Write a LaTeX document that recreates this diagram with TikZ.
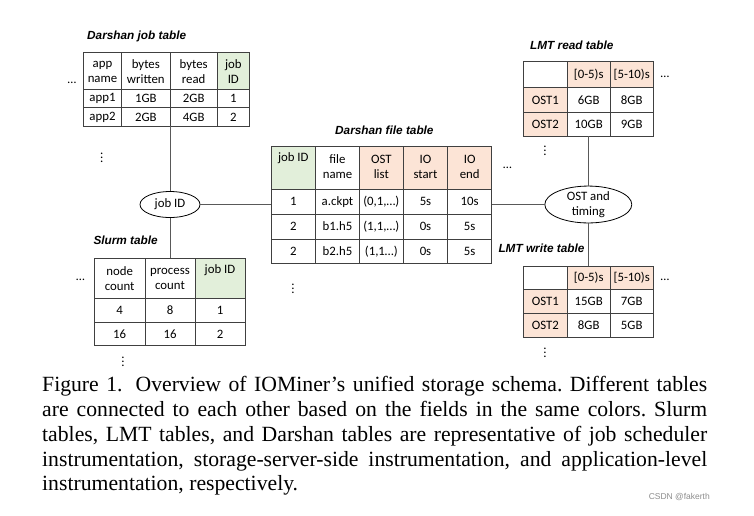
\documentclass[tikz,border=0pt]{standalone}
\usepackage{fontspec}
\setmainfont{Liberation Serif}
\setsansfont{Liberation Sans}
\newfontfamily\cellfont{Carlito}
\usetikzlibrary{shapes.geometric}
\definecolor{keygreen}{RGB}{226,239,218}
\definecolor{keypeach}{RGB}{252,228,214}
\frenchspacing

\begin{document}
\begin{tikzpicture}[x=1pt,y=-1pt,
  cell/.style={font=\cellfont\fontsize{12.8}{15}\selectfont, inner sep=0pt, align=center},
  tabtitle/.style={font=\sffamily\bfseries\itshape\fontsize{11.8}{14}\selectfont, anchor=west, inner sep=0pt},
  more/.style={font=\cellfont\fontsize{12.5}{15}\selectfont, inner sep=0pt, anchor=base},
  grid line/.style={draw=black!75, line width=0.8pt},
  link/.style={draw=black!65, line width=0.8pt},
  key/.style={cell, ellipse, draw=black, line width=0.8pt, fill=white}]
\useasboundingbox (0,0) rectangle (754,515);

% Darshan job table
\fill[keygreen] (217.3,52.3) rectangle (249.3,89);
\draw[grid line] (83.3,52.3) rectangle (249.3,126);
\foreach \y in {89,107.3} \draw[grid line] (83.3,\y) -- (249.3,\y);
\foreach \x in {121.7,170,217.3} \draw[grid line] (\x,52.3) -- (\x,126);
\node[tabtitle] (djt-title) at (87,36) {Darshan job table};
\node[cell] (djt-app) at (102.5,72) {app\\name};
\node[cell] (djt-wr) at (145.8,72) {bytes\\written};
\node[cell] (djt-rd) at (193.7,72) {bytes\\read};
\node[cell] (djt-job) at (233.3,72) {job\\ID};
\foreach \a/\w/\r/\j [count=\i, evaluate=\i as \y using 80+18.5*\i] in {app1/1GB/2GB/1, app2/2GB/4GB/2} {
  \node[cell] (djt-a\i) at (102.5,\y) {\a};
  \node[cell] (djt-w\i) at (145.8,\y) {\w};
  \node[cell] (djt-r\i) at (193.7,\y) {\r};
  \node[cell] (djt-j\i) at (233.3,\y) {\j};
}
\node[more] (djt-more) at (72,83) {…};
\node[cell] (djt-rows) at (101.7,155) {$\vdots$};
\coordinate (djt-bot) at (170,126);

% Slurm table
\fill[keygreen] (195,258.3) rectangle (245,298.3);
\draw[grid line] (94.3,258.3) rectangle (245,345.7);
\foreach \y in {298.3,322.7} \draw[grid line] (94.3,\y) -- (245,\y);
\foreach \x in {145,195} \draw[grid line] (\x,258.3) -- (\x,345.7);
\node[tabtitle] (slm-title) at (93.3,240) {Slurm table};
\node[cell] (slm-node) at (119.7,278.7) {node\\count};
\node[cell] (slm-proc) at (170,278.7) {process\\count};
\node[cell] (slm-job) at (220,270) {job ID};
\foreach \n/\p/\j [count=\i, evaluate=\i as \y using 286.8+23.7*\i] in {4/8/1, 16/16/2} {
  \node[cell] (slm-n\i) at (119.7,\y) {\n};
  \node[cell] (slm-p\i) at (170,\y) {\p};
  \node[cell] (slm-j\i) at (220,\y) {\j};
}
\node[more] (slm-more) at (80.5,280) {…};
\node[cell] (slm-rows) at (123,359) {$\vdots$};
\coordinate (slm-top) at (170,258.3);

% Darshan file table
\fill[keygreen] (271,146.7) rectangle (315.7,189);
\fill[keypeach] (359.3,146.7) rectangle (491.7,189);
\draw[grid line] (271,146.7) rectangle (491.7,263.3);
\foreach \y in {189,214,239} \draw[grid line] (271,\y) -- (491.7,\y);
\foreach \x in {315.7,359.3,403.3,447.7} \draw[grid line] (\x,146.7) -- (\x,263.3);
\node[tabtitle] (dft-title) at (335,130) {Darshan file table};
\node[cell] (dft-job) at (293.3,158.3) {job ID};
\node[cell] (dft-file) at (337.5,166.7) {file\\name};
\node[cell] (dft-ost) at (381.3,166.7) {OST\\list};
\node[cell] (dft-start) at (425.5,166.7) {IO\\start};
\node[cell] (dft-end) at (469.7,166.7) {IO\\end};
\foreach \j/\f/\o/\s/\e [count=\i, evaluate=\i as \y using 176.7+24.9*\i] in
    {1/a.ckpt/{(0,1,…)}/5s/10s, 2/b1.h5/{(1,1,…)}/0s/5s, 2/b2.h5/{(1,1…)}/0s/5s} {
  \node[cell] (dft-j\i) at (293.3,\y) {\j};
  \node[cell] (dft-f\i) at (337.5,\y) {\f};
  \node[cell] (dft-o\i) at (381.3,\y) {\o};
  \node[cell] (dft-s\i) at (425.5,\y) {\s};
  \node[cell] (dft-e\i) at (469.7,\y) {\e};
}
\node[more] (dft-more) at (507.5,168) {…};
\node[cell] (dft-rows) at (293,286) {$\vdots$};
\coordinate (dft-west) at (271,204.5);
\coordinate (dft-east) at (491.7,204.5);

% LMT read table
\fill[keypeach] (567.3,61.7) rectangle (653.3,87.3);
\fill[keypeach] (523.3,87.3) rectangle (567.3,136);
\draw[grid line] (523.3,61.7) rectangle (653.3,136);
\foreach \y in {87.3,112.7} \draw[grid line] (523.3,\y) -- (653.3,\y);
\foreach \x in {567.3,610} \draw[grid line] (\x,61.7) -- (\x,136);
\node[tabtitle] (lmr-title) at (530,45) {LMT read table};
\node[cell] (lmr-t1) at (588.7,74.5) {[0-5)s};
\node[cell] (lmr-t2) at (631.7,74.5) {[5-10)s};
\foreach \o/\a/\b [count=\i, evaluate=\i as \y using 75.7+24.3*\i] in {OST1/6GB/8GB, OST2/10GB/9GB} {
  \node[cell] (lmr-o\i) at (545.3,\y) {\o};
  \node[cell] (lmr-a\i) at (588.7,\y) {\a};
  \node[cell] (lmr-b\i) at (631.7,\y) {\b};
}
\node[more] (lmr-more) at (665,77) {…};
\node[cell] (lmr-rows) at (545,148) {$\vdots$};
\coordinate (lmr-bot) at (588.3,136);

% LMT write table
\fill[keypeach] (567.3,266) rectangle (653.3,289.3);
\fill[keypeach] (523.3,289.3) rectangle (567.3,337.3);
\draw[grid line] (523.3,266) rectangle (653.3,337.3);
\foreach \y in {289.3,313.3} \draw[grid line] (523.3,\y) -- (653.3,\y);
\foreach \x in {567.3,610} \draw[grid line] (\x,266) -- (\x,337.3);
\node[tabtitle] (lmw-title) at (498.3,248) {LMT write table};
\node[cell] (lmw-t1) at (588.7,277.7) {[0-5)s};
\node[cell] (lmw-t2) at (631.7,277.7) {[5-10)s};
\foreach \o/\a/\b [count=\i, evaluate=\i as \y using 277.3+24*\i] in {OST1/15GB/7GB, OST2/8GB/5GB} {
  \node[cell] (lmw-o\i) at (545.3,\y) {\o};
  \node[cell] (lmw-a\i) at (588.7,\y) {\a};
  \node[cell] (lmw-b\i) at (631.7,\y) {\b};
}
\node[more] (lmw-more) at (665,280) {…};
\node[cell] (lmw-rows) at (545,350) {$\vdots$};
\coordinate (lmw-top) at (588.3,266);

% join keys
\node[key, minimum width=60, minimum height=26] (jobid) at (170,204.5) {job ID};
\node[key, minimum width=87, minimum height=33] (osttime) at (588.3,204.5) {OST and\\timing};
\draw[link] (djt-bot) -- (jobid);
\draw[link] (jobid) -- (slm-top);
\draw[link] (jobid) -- (dft-west);
\draw[link] (dft-east) -- (osttime);
\draw[link] (lmr-bot) -- (osttime);
\draw[link] (osttime) -- (lmw-top);

% caption
\node[anchor=north west, inner sep=0pt, text width=665pt, align=justify,
  font=\fontsize{21.7}{24.7}\selectfont] (caption) at (42,376.5)
  {Figure 1.\hspace{13pt}Overview of IOMiner's unified storage schema. Different tables\linebreak
   are connected to each other based on the fields in the same colors. Slurm\linebreak
   tables, LMT tables, and Darshan tables are representative of job scheduler\linebreak
   instrumentation, storage-server-side instrumentation, and application-level\linebreak
   instrumentation, respectively.};
\node[anchor=east, inner sep=0pt, text=black!45, font=\sffamily\fontsize{8.5}{10}\selectfont] (mark) at (710,497) {CSDN @fakerth};
\end{tikzpicture}
\end{document}
